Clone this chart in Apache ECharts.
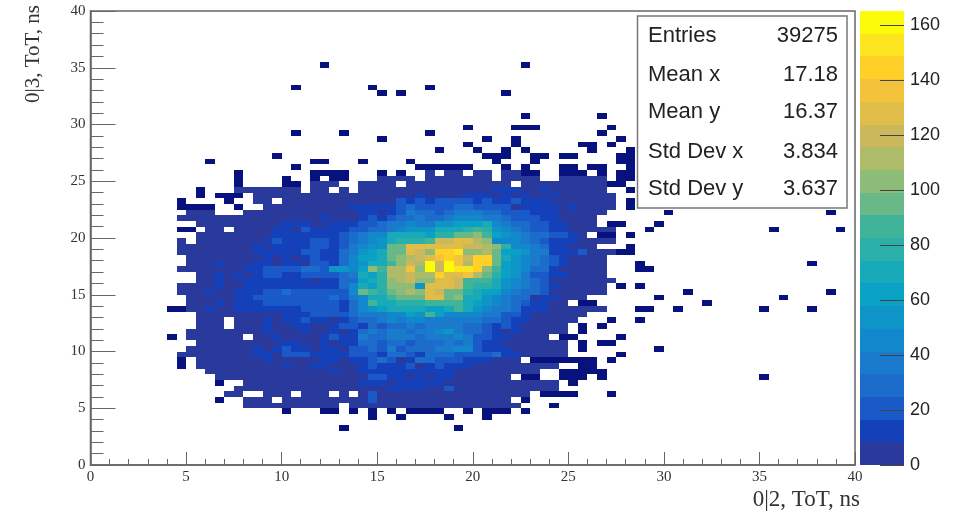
<!DOCTYPE html>
<html><head><meta charset="utf-8">
<script src="https://cdn.jsdelivr.net/npm/echarts@6/dist/echarts.min.js"></script>
<style>html,body{margin:0;padding:0;background:#fff}#c{width:956px;height:513px}</style>
</head><body><div id="c"></div>
<script>
// Histogram bin width (ns) and colour scale
const binWidth = 0.5;
const zMax = 165;
const xTitle = "0|2, ToT, ns";
const yTitle = "0|3, ToT, ns";
const statNames = ["Entries","Mean x","Mean y","Std Dev x","Std Dev y"];
const statValues = ["39275","17.18","16.37","3.834","3.637"];
const lowCountColor = "#07127e";
const bandColors = ["#2a3a9c","#1441ba","#1a5ac8","#1c6ccc","#1a7bcc","#1288cc","#0f94c8","#0aa2c4","#18aab8","#2ab0a8","#40b498","#68b888","#8cbc78","#aebb68","#ccb85c","#e0bc48","#f5c23c","#fed028","#fce41e","#fbfb0a"];
const bandEdges = [0,8.25,16.5,24.75,33,41.25,49.5,57.75,66,74.25,82.5,90.75,99,107.25,115.5,123.75,132,140.25,148.5,156.75,165];

// Dense rows: first entry = first x bin, then counts per bin. Row y bin = 10 + list position.
const r10=[16,4,4,4,4,4,4,4,4,4,4,0,4,4,4,4,4,4,4,4,4,4,4,4,4,4,4,4,4,4];
const r11=[16,4,4,4,0,4,4,4,4,4,4,4,4,4,21,4,4,4,4,4,4,4,4,4,4,4,4,4,4];
const r12=[14,4,4,0,0,4,4,4,0,4,4,4,0,4,0,4,21,4,4,4,4,4,4,4,4,4,4,4,4,4,4,4,4];
const r13=[15,4,4,4,4,4,4,4,4,4,4,4,4,4,4,4,4,12,12,12,12,4,4,21,4,4,4,4,4,4,4,4,4,4,4];
const r14=[16,4,4,4,4,4,4,4,4,4,4,4,4,12,12,12,4,12,12,12,12,12,4,4,4,4,4,4,4,4,4,4,4,4];
const r15=[13,4,4,4,4,4,4,4,4,4,4,4,4,4,4,4,4,21,21,12,12,4,12,4,12,12,4,4,4,4,4,4];
const r16=[12,4,4,4,4,4,4,4,4,4,4,4,4,4,12,4,4,12,12,12,12,12,12,12,12,12,12,4,4,4,4,4,4,4,4,4];
const r17=[11,4,4,4,4,4,4,4,4,4,12,4,4,12,12,4,4,4,12,21,12,12,12,21,4,12,21,12,12,12,4,4,4,4,4,4,4,4,4];
const r18=[11,4,4,4,4,4,4,4,12,4,4,4,4,4,12,12,4,12,12,21,29,21,4,12,29,29,21,21,21,12,12,12,4,4,4];
const r19=[9,4,4,4,4,4,4,4,4,12,12,4,21,21,21,12,12,12,12,21,21,21,12,29,29,21,12,29,29,29,21,21,21,21,29,12,12,4,4,4,4,4];
const r20=[10,4,4,4,4,4,4,4,12,4,12,21,12,12,4,12,12,4,21,21,29,21,37,21,29,29,29,37,37,46,46,21,12,12,12,4,4,4,4,4,4];
const r21=[11,4,4,4,4,4,4,4,4,4,12,12,4,4,12,4,12,12,29,29,21,29,29,21,29,29,29,37,29,37,21,12,12,4,4,4,4,4,4,4];
const r22=[10,4,4,4,4,4,4,0,4,4,12,4,4,4,4,12,21,12,12,37,29,29,37,37,37,29,37,37,37,46,37,21,21,12,12,4,4,4,4];
const r23=[10,4,4,4,4,4,4,4,4,12,4,4,4,12,4,4,12,4,12,29,37,29,37,37,29,37,37,46,54,37,29,29,21,12,4,12,4,4,4,4,4];
const r24=[11,4,4,4,0,4,4,4,12,4,4,12,12,4,4,12,21,21,12,29,21,29,29,37,29,37,37,37,37,29,29,21,12,21,12,4,4,4,4,4];
const r25=[11,4,4,4,0,4,4,4,12,4,12,12,21,12,12,4,12,21,29,29,37,46,37,46,46,37,37,37,37,37,37,29,29,21,12,12,4,4,4,4,4];
const r26=[11,4,4,4,4,4,4,4,4,4,12,12,12,21,21,21,21,29,37,37,37,46,46,62,54,87,62,46,46,46,46,37,37,21,21,12,4,4,4,4,4,4];
const r27=[10,4,4,12,4,4,12,12,12,12,12,12,12,21,21,21,21,12,29,46,54,62,70,70,70,70,62,62,70,87,70,54,46,37,37,29,12,12,12,4,4,4,4,4,4];
const r28=[10,4,4,4,12,4,12,12,12,21,21,21,21,21,21,21,21,12,29,46,87,70,70,79,79,79,87,87,87,87,70,62,54,46,37,29,21,12,12,4,4];
const r29=[10,4,4,4,4,4,12,12,21,21,21,21,21,21,21,21,29,21,37,46,70,70,87,95,95,95,128,128,95,104,70,70,54,46,37,29,29,4,12,12,4,4,4];
const r30=[9,4,4,4,12,4,4,12,12,12,21,21,29,21,21,21,21,21,21,46,95,87,79,95,104,112,104,128,120,95,95,79,70,62,62,46,37,29,29,21,4,4,4,4,4,4];
const r31=[9,4,4,4,4,12,4,4,12,12,12,12,12,12,12,12,12,12,29,46,70,62,79,104,104,104,54,128,128,128,120,87,79,79,70,54,46,37,29,21,12,4,4,4,4,4];
const r32=[11,4,4,12,4,4,12,12,12,12,12,12,12,4,12,12,29,29,62,70,79,104,112,120,104,104,128,128,120,87,87,87,70,54,46,37,29,21,4,4,4,4,4,4,4];
const r33=[11,4,4,12,4,12,4,12,21,21,12,12,21,21,21,21,29,37,70,62,79,112,112,120,112,112,145,128,128,137,112,95,79,62,54,37,21,21,12,12,4,4,4,4];
const r34=[9,4,4,4,4,4,4,4,12,12,21,21,21,21,29,29,21,54,54,46,62,104,87,112,112,137,104,162,120,162,153,153,145,104,87,62,54,46,29,29,12,4,4,4,4,4];
const r35=[10,4,4,4,12,4,4,4,12,12,4,12,12,4,21,21,12,29,46,54,70,70,87,104,120,112,162,120,162,137,112,145,145,95,62,54,46,37,29,21,12,4,4,4,4];
const r36=[10,4,4,4,4,4,4,4,4,12,4,12,4,12,21,12,12,29,46,62,62,70,95,104,112,120,128,137,145,137,120,145,145,95,70,54,46,37,29,21,12,4,4,4,4];
const r37=[9,4,4,4,4,4,4,4,4,12,12,12,12,12,21,21,12,12,29,37,54,62,70,95,95,128,120,104,145,145,153,104,104,112,95,62,62,54,37,37,12,12,12,21,4,4,4];
const r38=[9,4,4,4,4,4,4,4,4,12,4,12,12,12,12,21,21,12,21,37,46,54,54,95,95,128,128,128,128,128,128,120,120,112,104,79,46,46,37,29,12,12,4,4,4];
const r39=[9,4,0,4,4,4,4,4,4,4,12,21,12,12,12,21,21,12,21,29,37,46,54,70,79,79,79,87,120,120,128,128,112,104,46,46,46,37,29,21,12,12,12,4,4,4,4];
const r40=[11,4,4,4,4,4,4,4,4,12,12,12,12,12,12,12,21,29,37,46,46,70,70,70,70,62,79,79,95,95,104,87,62,54,46,37,29,29,21,21,12,4];
const r41=[12,4,4,0,4,4,4,4,12,12,4,21,12,12,12,12,21,21,29,29,37,46,54,54,54,70,70,70,79,87,79,54,46,37,29,21,21,12,12,4,4,4,4,4];
const r42=[11,4,4,4,4,4,4,4,4,4,12,12,12,4,4,12,12,12,21,21,29,37,37,46,37,37,54,54,62,62,62,70,46,37,29,29,21,21,12,12,4,4,4];
const r43=[9,4,4,4,4,4,4,4,4,4,4,4,4,4,4,4,12,4,4,4,12,21,12,21,29,29,37,29,29,37,46,46,46,37,37,29,21,21,21,12,12,4,4,4,4];
const r44=[10,4,4,4,0,0,0,4,4,4,4,4,4,4,4,4,4,4,4,12,12,4,12,21,37,29,29,21,29,37,37,37,29,29,21,21,21,12,12,12,4,4,4,4,4];
const r45=[18,4,4,4,4,4,4,4,4,4,12,12,12,12,12,21,29,21,21,21,21,29,29,21,21,21,21,4,12,12,12,12,4,12,4,4,4,4];
const r46=[17,4,4,0,4,4,4,4,4,4,4,4,4,4,4,4,21,12,21,12,21,21,21,21,12,21,12,12,21,12,12,12,4,4,4,4,4,4,4];
const r47=[17,4,4,4,4,4,4,4,4,4,4,4,4,4,4,4,4,4,12,4,4,4,4,12,12,12,4,12,4,12,4,4,12,4,4,4,4,4,4];
const r48=[15,4,4,4,4,4,4,4,0,4,4,0,4,0,4,4,4,4,4,4,4,4,4,4,4,4,4,4,12,12,12,4,4,12,4,4,4,4,4,4];
const r49=[23,4,4,4,0,0,4,4,4,4,0,4,4,4,4,4,4,4,4,4,4,4,0,4,4,4,4,4,4,4,4,4];
const r50=[30,4,4,4,4,0,4,4,4,4,4,4,4,0,4,4,4,4,0,0,4,4,4,4,4];
const r51=[35,4,0,4,4,0,4,4,0,4,4];
const denseRows=[r10,r11,r12,r13,r14,r15,r16,r17,r18,r19,r20,r21,r22,r23,r24,r25,r26,r27,r28,r29,r30,r31,r32,r33,r34,r35,r36,r37,r38,r39,r40,r41,r42,r43,r44,r45,r46,r47,r48,r49,r50,r51];
const firstDenseRow = 10;

// Isolated single-count bins: y bin and its x bins
const sparseRowBins=[6,8,9,10,11,12,14,15,16,17,18,19,20,21,22,23,24,25,27,28,29,30,31,34,35,37,38,40,41,42,44,45,46,47,48,49,50,51,52,53,54,55,56,57,58,59,61,65,66,70];
const sparseColBins=[
[26,38],[29,32,37,41],[20,24,25,27,29,31,33,34,35,36,39,41,42,43,45],[48],[13,45],[47,48,49,50,54],[13,50],
[45,46,49,50,51,53,70],[49,50,51,52,53],[9,51,52],[9,46,47,48,49,50,51,52,54],[55],[51,59],[51,53,54],
[8,49,50,55],[51],[51,53],[54,57],[8,9,57,58,61,70,75],[51,52,64],[59,72],[62,77],[55,57],[57,58],[57,75],
[55,56],[56],[53,54,56],[9,10,58,71,78],[54,55,59],[60,77],[9,10,11,12,15,56],[9,14,56],[11,13,14,15],[11,56],
[15,20,21,54,55],[15,20,23,25,26,55,56],[15,23,24,25,26,30,32,45,46,49,50,51,53,55,56],
[21,34,35,36,37,38,39,43,45,49,50,52,53,56],[12,23,24,28,33,42,46,55,56],[19,41,42,43,46,47,49,50,55,56],
[36,40,43,45,52,56],[39,44,51,52,54],[30,41,44,55],[21,26,35,53],[39,44,45,46,54],[45,53],[30,32,43],[21,29,35],[24,45]];

const cells=[];
denseRows.forEach((row,k)=>{
  for(let n=1;n<row.length;n++){ if(row[n]>0) cells.push([(row[0]+n-1)*binWidth,(firstDenseRow+k)*binWidth,row[n]]); }
});
sparseRowBins.forEach((rb,k)=>{ sparseColBins[k].forEach(cb=>cells.push([cb*binWidth,rb*binWidth,1])); });
const bandData=bandColors.map((c,k)=>[bandEdges[k],bandEdges[k+1],k]);

const colorOf=v=>v<=1?lowCountColor:bandColors[Math.min(bandColors.length-1,Math.floor(v/(zMax/bandColors.length)))];
const renderCell=(p,api)=>{
  const x=api.value(0),y=api.value(1),v=api.value(2);
  const a=api.coord([x,y+binWidth]),b=api.coord([x+binWidth,y]);
  const x0=Math.round(a[0]),y0=Math.round(a[1]),x1=Math.round(b[0]),y1=Math.round(b[1]);
  return {type:'rect',shape:{x:x0,y:y0,width:x1-x0,height:y1-y0},style:{fill:colorOf(v)}};
};
const renderBand=(p,api)=>{
  const lo=api.coord([0,api.value(0)]),hi=api.coord([1,api.value(1)]);
  const y0=Math.round(hi[1]),y1=Math.round(lo[1]);
  return {type:'rect',shape:{x:lo[0],y:y0,width:hi[0]-lo[0],height:y1-y0},style:{fill:bandColors[api.value(2)]}};
};

const serif='"Liberation Serif"', sans='"Liberation Sans"';
const axisColor='#666';
const statTexts=[];
const statY=[36,75,112,152,189];
statNames.forEach((n,k)=>{
  statTexts.push({type:'text',x:648,y:statY[k],z:101,style:{text:n,font:'22px '+sans,fill:'#222',textAlign:'left',textVerticalAlign:'middle'}});
  statTexts.push({type:'text',x:838,y:statY[k],z:101,style:{text:statValues[k],font:'22px '+sans,fill:'#222',textAlign:'right',textVerticalAlign:'middle'}});
});

const chart=echarts.init(document.getElementById('c'),null,{renderer:'canvas'});
chart.setOption({
  animation:false,
  backgroundColor:'#fff',
  grid:[
    {left:90.5,top:11,width:764.5,height:454,show:true,borderColor:axisColor,borderWidth:1.5,backgroundColor:'transparent'},
    {left:860,top:11,width:44,height:454}
  ],
  xAxis:[
    {type:'value',gridIndex:0,min:0,max:40,interval:5,name:xTitle,nameLocation:'end',nameGap:5,
     nameTextStyle:{fontFamily:serif,fontSize:23,color:'#333',align:'right',verticalAlign:'top',padding:[23,0,0,0]},
     axisLine:{show:true,lineStyle:{color:axisColor,width:1.5}},
     axisTick:{show:true,inside:true,length:13,lineStyle:{color:axisColor}},
     minorTick:{show:true,splitNumber:5,length:6,lineStyle:{color:axisColor}},
     splitLine:{show:false},
     axisLabel:{fontFamily:serif,fontSize:15,color:'#333',margin:5,showMinLabel:true,showMaxLabel:true}},
    {type:'value',gridIndex:1,min:0,max:1,show:false}
  ],
  yAxis:[
    {type:'value',gridIndex:0,min:0,max:40,interval:5,name:yTitle,nameLocation:'end',nameRotate:90,nameGap:6,
     nameTextStyle:{fontFamily:serif,fontSize:21,color:'#333',align:'right',verticalAlign:'bottom',padding:[0,0,47,0]},
     axisLine:{show:true,lineStyle:{color:axisColor,width:1.5}},
     axisTick:{show:true,inside:true,length:25,lineStyle:{color:axisColor}},
     minorTick:{show:true,splitNumber:5,length:13,lineStyle:{color:axisColor}},
     splitLine:{show:false},
     axisLabel:{fontFamily:serif,fontSize:15,color:'#333',margin:5,showMinLabel:true,showMaxLabel:true}},
    {type:'value',gridIndex:1,position:'right',min:0,max:zMax,interval:20,z:10,
     axisLine:{show:false,onZero:false},
     axisTick:{show:true,inside:true,length:24,lineStyle:{color:'#444'}},
     splitLine:{show:false},
     axisLabel:{fontFamily:sans,fontSize:18,color:'#222',margin:6,showMinLabel:true,showMaxLabel:false}}
  ],
  series:[
    {type:'custom',name:'TH2',xAxisIndex:0,yAxisIndex:0,coordinateSystem:'cartesian2d',data:cells,renderItem:renderCell,encode:{x:0,y:1},silent:true,clip:true,z:2},
    {type:'custom',name:'palette',xAxisIndex:1,yAxisIndex:1,coordinateSystem:'cartesian2d',data:bandData,renderItem:renderBand,encode:{y:[0,1]},silent:true,z:1}
  ],
  graphic:[
    {type:'rect',z:100,shape:{x:637.5,y:16,width:209.5,height:192},style:{fill:'#fff',stroke:'#777',lineWidth:1.5}},
    ...statTexts
  ]
});
</script></body></html>
